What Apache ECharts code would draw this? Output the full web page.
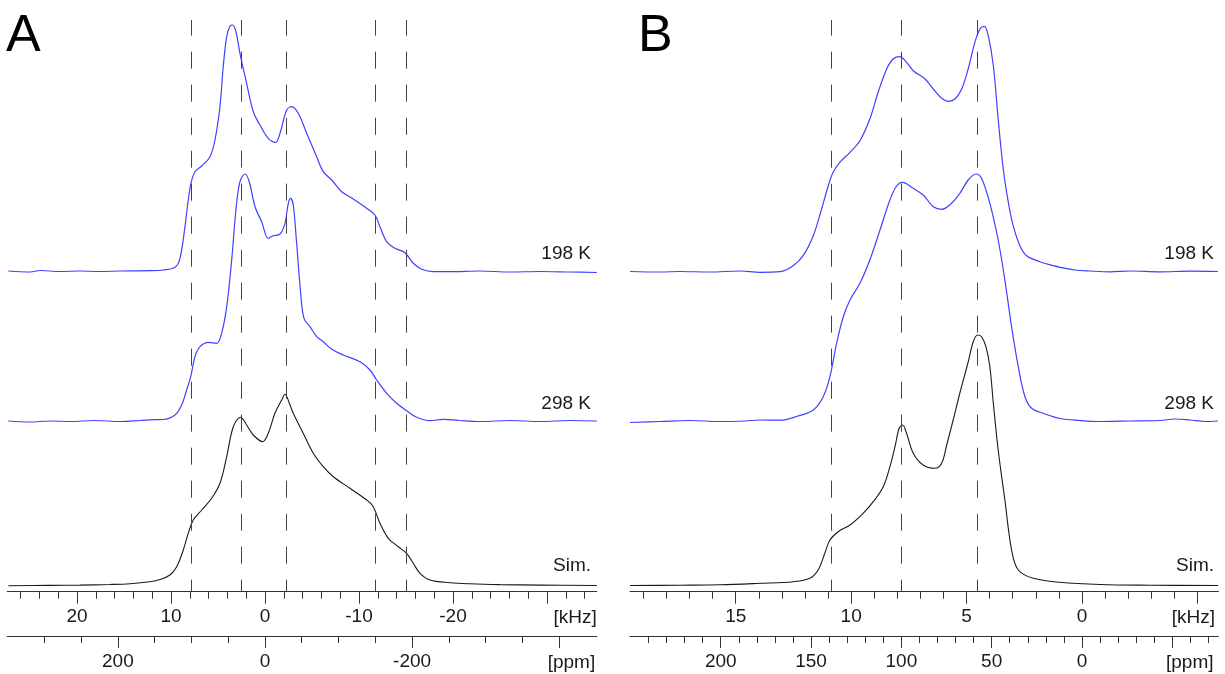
<!DOCTYPE html>
<html><head><meta charset="utf-8">
<script src="https://cdn.jsdelivr.net/npm/echarts@6/dist/echarts.min.js"></script>
<style>html,body{margin:0;padding:0;background:#fff}#c{width:1225px;height:674px}</style>
</head><body><div id="c"></div>
<script>
// ---------- data: [frequency offset (kHz), intensity (a.u.)] ----------
const specA198 = [[27.3,0.5],[25.0,-0.5],[23.9,1],[21.8,0],[19.7,0.5],[17.55,0],[15.43,0.5],[12.23,0.8],[10.82,1.5],[9.57,4.2],[9.04,13.2],[8.51,44.8],[8.16,71.5],[7.87,88.2],[7.45,99.8],[6.73,105.5],[5.85,114.8],[5.32,131.5],[4.79,164.8],[4.44,204.8],[4.07,234.8],[3.72,245.5],[3.44,246.5],[3.09,239.8],[2.66,218.2],[1.95,188.2],[1.24,159.8],[0.53,146.5],[-0.35,133.2],[-1.14,129.2],[-1.60,138.2],[-2.31,161.5],[-2.84,164.8],[-3.54,158.2],[-4.44,138.2],[-5.50,114.8],[-6.20,99.8],[-7.10,91.5],[-8.16,79.8],[-9.39,72.5],[-10.82,63.2],[-11.70,56.5],[-12.23,44.8],[-12.95,29.8],[-13.83,23.2],[-14.89,18.8],[-15.78,8.2],[-16.67,2.2],[-17.90,-0.2],[-19.68,-0.2],[-22.87,0.5],[-26.06,-0.5],[-29.26,0],[-32.4,-0.5],[-35.3,-1]];
const specA298 = [[27.3,0],[25.0,-1],[22.9,0],[20.7,-0.5],[18.1,0.5],[15.4,-0.5],[13.3,0.5],[12.23,1.2],[10.82,1.5],[9.57,6],[8.86,16],[8.33,31],[7.90,44.3],[7.45,64.3],[6.91,74.3],[6.03,78.7],[5.14,77.7],[4.61,87.7],[4.07,114.3],[3.54,161],[3.09,211],[2.66,239.3],[2.13,247],[1.67,239.3],[1.06,214.3],[0.35,199.3],[-0.35,182.7],[-0.82,185],[-1.60,187],[-2.13,197.7],[-2.48,217.7],[-2.73,222.7],[-3.01,216],[-3.37,177.7],[-3.80,127.7],[-4.15,102.7],[-4.79,94.3],[-5.50,84.3],[-6.20,79.3],[-7.10,71.7],[-8.33,66],[-10.11,59.3],[-11.17,51],[-11.88,41],[-12.95,27.7],[-14.01,17.7],[-15.07,10.3],[-16.14,3.7],[-17.55,0.3],[-18.97,1.7],[-20.7,0.5],[-22.9,-0.5],[-26.1,0.5],[-29.3,-0.5],[-32.4,0.5],[-35.3,0]];
const specASim = [[27.3,0.3],[22.9,0.6],[19.7,0.9],[16.5,1.5],[14.36,2.3],[12.23,4.3],[11.17,6.5],[10.11,11],[9.39,19.3],[8.69,36],[8.16,52.7],[7.63,66],[6.73,76],[5.67,87.7],[4.79,102.7],[4.07,129.3],[3.37,159.3],[2.59,168.7],[1.95,161],[1.24,151],[0.24,144.3],[-0.35,152.7],[-1.06,172.7],[-1.78,186],[-2.13,191.7],[-2.66,181],[-3.01,172.7],[-4.07,152.7],[-5.14,132.7],[-6.20,119.3],[-7.27,109.3],[-9.04,97.7],[-10.82,86],[-11.52,79.3],[-12.23,62.7],[-13.12,47.7],[-14.18,39.3],[-15.07,32.7],[-15.78,22.7],[-16.49,12.7],[-17.55,6],[-19.68,3.3],[-21.8,2.2],[-25.0,1.4],[-29.3,0.9],[-35.3,0.5]];
const specB198 = [[19.58,0],[18.28,-0.5],[17.42,0],[16.12,-0.5],[14.82,0.5],[13.95,-0.8],[13.08,-0.2],[12.51,5.8],[12.08,15.8],[11.64,35.8],[11.28,62.5],[10.99,85.8],[10.78,99.2],[10.49,109.2],[10.05,119.2],[9.62,130.8],[9.19,152.5],[8.83,179.2],[8.46,202.5],[8.18,212.5],[7.89,214.8],[7.60,209.2],[7.31,200.8],[6.80,192.5],[6.44,182.5],[6.08,173.2],[5.79,170.2],[5.50,172.5],[5.21,182.5],[4.93,202.5],[4.64,229.2],[4.42,242.5],[4.23,245.2],[4.06,235.8],[3.84,205.8],[3.63,152.5],[3.41,102.5],[3.19,69.2],[2.98,45.8],[2.69,25.8],[2.40,15.8],[1.82,9.8],[1.24,5.8],[0.95,4.2],[0.30,1.5],[-0.35,0.5],[-1.21,-0.3],[-2.08,0.5],[-3.38,-0.3],[-4.68,0.3],[-5.89,0]];
const specB298 = [[19.58,-1.5],[18.28,-0.5],[16.98,0.5],[15.68,-0.5],[14.60,0],[13.95,1],[13.08,0.8],[12.36,4.5],[11.64,11],[11.21,24.3],[10.92,44.3],[10.63,77.7],[10.34,104.3],[10.05,121],[9.62,137.7],[9.19,161],[8.75,191],[8.32,221],[8.03,235],[7.77,238.7],[7.31,232.7],[6.88,226],[6.44,214.3],[6.08,211.7],[5.65,217.7],[5.29,227.7],[4.93,241],[4.59,247],[4.35,242.7],[3.99,217.7],[3.63,181],[3.34,141],[3.05,94.3],[2.76,54.3],[2.47,24.3],[2.18,12.7],[1.68,7.7],[0.95,2.5],[0.09,0.5],[-0.78,-0.5],[-2.08,0],[-3.38,0.5],[-4.03,2],[-4.68,1],[-5.33,-0.5],[-5.89,0]];
const specBSim = [[19.58,0.5],[17.42,0.8],[15.68,1.2],[13.95,2.7],[12.51,4.3],[11.79,7.7],[11.43,16],[11.14,32.7],[10.92,46],[10.56,54.3],[10.05,61],[9.48,72.7],[9.04,84.3],[8.61,99.3],[8.32,119.3],[8.10,139.3],[7.92,157.7],[7.77,161],[7.60,152.7],[7.31,132.7],[6.88,121],[6.37,117.7],[6.08,122.7],[5.86,141],[5.58,166],[5.29,193],[4.93,224],[4.71,244.3],[4.52,251],[4.35,249.3],[4.16,239.3],[3.99,219.3],[3.84,182.7],[3.63,136],[3.34,86],[3.05,36],[2.76,16],[2.11,7.7],[0.95,3.7],[-0.78,1.5],[-2.95,0.8],[-5.89,0.5]];

// reference line positions (kHz)
const refLinesA = [7.84, 2.55, -2.31, -11.70, -15.07];
const refLinesB = [10.875, 7.84, 4.52];

// trace names
const traceNames = ['198 K', '298 K', 'Sim.'];

// tick values
const ticksA_kHzMajor = [20, 10, 0, -10, -20, -30];
const labelsA_kHz = [20, 10, 0, -10, -20];
const ticksA_kHzMinor = [26,24,22,18,16,14,12,8,6,4,2,-2,-4,-6,-8,-12,-14,-16,-18,-22,-24,-26,-28,-32,-34];
const ticksA_ppmMajor = [200, 0, -200, -400];
const labelsA_ppm = [200, 0, -200];
const ticksA_ppmMinor = [300,250,150,100,50,-50,-100,-150,-250,-300,-350];
const ticksB_kHzMajor = [15, 10, 5, 0, -5];
const labelsB_kHz = [15, 10, 5, 0];
const ticksB_kHzMinor = [19,18,17,16,14,13,12,11,9,8,7,6,4,3,2,1,-1,-2,-3,-4];
const ticksB_ppmMajor = [200, 150, 100, 50, 0, -50];
const labelsB_ppm = [200, 150, 100, 50, 0];
const ticksB_ppmMinor = [240,230,220,210,190,180,170,160,140,130,120,110,90,80,70,60,40,30,20,10,-10,-20,-30,-40,-60,-70];

// axis ranges (kHz) and conversion
const rangeA_kHz = [-35.29, 27.41];
const rangeB_kHz = [-5.906, 19.58];
const ppmPerKHz = 12.78;

// ---------- layout / style ----------
const FONT = "'Liberation Sans', Arial, Helvetica, sans-serif";
const offsets = [320.2, 170.7, 5.7]; // vertical stacking offsets for 198 K, 298 K, Sim.
const colors = ['#4040ff', '#4040ff', '#1a1a1a'];
const Y_MAX = 571.7;
const PPM_OFFSET = 44.3;

function xAx(grid, rng, offset, ticks, labels, tickLen, showLine) {
  return {
    type: 'value', gridIndex: grid, position: 'bottom', offset: offset, inverse: true,
    min: rng[0], max: rng[1], scale: true,
    axisLine: { show: showLine, onZero: false, lineStyle: { color: '#333', width: 1.2 } },
    axisTick: { show: true, length: tickLen, customValues: ticks, lineStyle: { color: '#333', width: 1 } },
    axisLabel: labels ? { show: true, customValues: labels, margin: 16, fontSize: 19, color: '#1a1a1a', fontFamily: FONT } : { show: false },
    splitLine: { show: false }, minorTick: { show: false }
  };
}
const ppmRange = r => [r[0] * ppmPerKHz, r[1] * ppmPerKHz];

const xAxes = [
  xAx(0, rangeA_kHz, 0, ticksA_kHzMajor, labelsA_kHz, 12, true),
  xAx(0, rangeA_kHz, 0, ticksA_kHzMinor, null, 7, false),
  xAx(0, ppmRange(rangeA_kHz), PPM_OFFSET, ticksA_ppmMajor, labelsA_ppm, 12, true),
  xAx(0, ppmRange(rangeA_kHz), PPM_OFFSET, ticksA_ppmMinor, null, 7, false),
  xAx(1, rangeB_kHz, 0, ticksB_kHzMajor, labelsB_kHz, 12, true),
  xAx(1, rangeB_kHz, 0, ticksB_kHzMinor, null, 7, false),
  xAx(1, ppmRange(rangeB_kHz), PPM_OFFSET, ticksB_ppmMajor, labelsB_ppm, 12, true),
  xAx(1, ppmRange(rangeB_kHz), PPM_OFFSET, ticksB_ppmMinor, null, 7, false)
];

function mkSeries(spec, k, xi, yi, refs) {
  const s = {
    type: 'line', xAxisIndex: xi, yAxisIndex: yi, name: traceNames[k],
    data: spec.map(p => [p[0], p[1] + offsets[k]]),
    smooth: 0.35, symbol: 'none', silent: true, animation: false,
    lineStyle: { color: colors[k], width: k === 2 ? 1.1 : 1.2 },
    z: 3
  };
  if (refs) {
    s.markLine = {
      silent: true, animation: false, symbol: ['none', 'none'], label: { show: false },
      lineStyle: { color: '#444', width: 1, type: [17, 16], dashOffset: 5 },
      emphasis: { disabled: true },
      data: refs.map(v => ({ xAxis: v }))
    };
  }
  return s;
}

const labelPos = [254, 404, 566];
const graphics = [];
traceNames.forEach((t, k) => {
  graphics.push({ type: 'text', x: 591, y: labelPos[k], style: { text: t, fontSize: 19, fontFamily: FONT, fill: '#1a1a1a', align: 'right', verticalAlign: 'middle' } });
  graphics.push({ type: 'text', x: 1214, y: labelPos[k], style: { text: t, fontSize: 19, fontFamily: FONT, fill: '#1a1a1a', align: 'right', verticalAlign: 'middle' } });
});
[596.7, 1215].forEach(xr => {
  graphics.push({ type: 'text', x: xr, y: 618, style: { text: '[kHz]', fontSize: 19, fontFamily: FONT, fill: '#1a1a1a', align: 'right', verticalAlign: 'middle' } });
  graphics.push({ type: 'text', x: xr - 1.5, y: 663, style: { text: '[ppm]', fontSize: 19, fontFamily: FONT, fill: '#1a1a1a', align: 'right', verticalAlign: 'middle' } });
});
graphics.push({ type: 'text', x: 6, y: 37, style: { text: 'A', fontSize: 52, fontFamily: FONT, fill: '#000', align: 'left', verticalAlign: 'middle' } });
graphics.push({ type: 'text', x: 638, y: 37, style: { text: 'B', fontSize: 52, fontFamily: FONT, fill: '#000', align: 'left', verticalAlign: 'middle' } });

const chart = echarts.init(document.getElementById('c'), null, { renderer: 'canvas' });
chart.setOption({
  backgroundColor: '#fff',
  animation: false,
  grid: [
    { left: 7.3, right: 628.3, top: 20, bottom: 82.3 },
    { left: 630, right: 6.7, top: 20, bottom: 82.3 }
  ],
  xAxis: xAxes,
  yAxis: [
    { type: 'value', gridIndex: 0, min: 0, max: Y_MAX, show: false },
    { type: 'value', gridIndex: 1, min: 0, max: Y_MAX, show: false }
  ],
  series: [
    mkSeries(specA198, 0, 0, 0),
    mkSeries(specA298, 1, 0, 0),
    mkSeries(specASim, 2, 0, 0, refLinesA),
    mkSeries(specB198, 0, 4, 1),
    mkSeries(specB298, 1, 4, 1),
    mkSeries(specBSim, 2, 4, 1, refLinesB)
  ],
  graphic: graphics
});
</script>
</body></html>
